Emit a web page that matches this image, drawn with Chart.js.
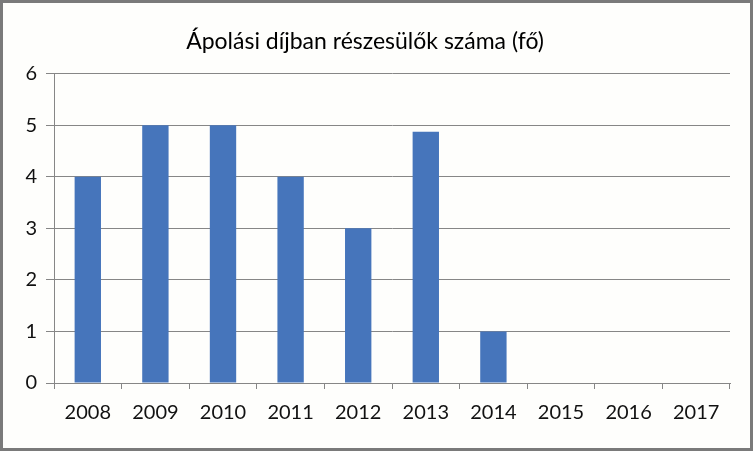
<!DOCTYPE html>
<html>
<head>
<meta charset="utf-8">
<script src="https://cdn.jsdelivr.net/npm/chart.js@4"></script>
<style>
html,body{margin:0;padding:0;background:#fff;}
#wrap{width:753px;height:451px;position:relative;}
</style>
</head>
<body>
<div id="wrap"><canvas id="c" width="753" height="451"></canvas></div>
<script>
const categories = ['2008','2009','2010','2011','2012','2013','2014','2015','2016','2017'];
const values = [4, 5, 5, 4, 3, 4.87, 1, 0, 0, 0];
const yTicks = [0,1,2,3,4,5,6];
const titleText = 'Ápolási díjban részesülők száma (fő)';

const framePlugin = {
  id: 'frame',
  beforeDraw(chart) {
    const ctx = chart.ctx;
    ctx.save();
    ctx.fillStyle = '#fefefc';
    ctx.fillRect(0, 0, chart.width, chart.height);
    ctx.strokeStyle = '#7a7a7a';
    ctx.lineWidth = 3;
    ctx.strokeRect(1.5, 1.5, chart.width - 3, chart.height - 3);
    ctx.restore();
  }
};

new Chart(document.getElementById('c'), {
  type: 'bar',
  data: {
    labels: categories,
    datasets: [{
      data: values,
      backgroundColor: '#4675bb',
      borderWidth: 0,
      barPercentage: 0.78,
      categoryPercentage: 0.5
    }]
  },
  plugins: [framePlugin],
  options: {
    responsive: false,
    animation: false,
    devicePixelRatio: 1,
    layout: { padding: { top: 18, right: 23, bottom: 0, left: 0 } },
    plugins: {
      legend: { display: false },
      tooltip: { enabled: false },
      title: {
        display: true,
        text: titleText,
        color: '#000',
        font: { family: 'Lato', size: 23, weight: 'normal', lineHeight: 1.2 },
        padding: { top: 10, bottom: 18 }
      }
    },
    scales: {
      x: {
        offset: true,
        afterFit(s) { s.height = 68; },
        grid: { offset: true, drawOnChartArea: false, drawTicks: true, tickLength: 6, color: '#868686' },
        border: { display: true, color: '#868686' },
        ticks: { color: '#111', padding: 12, font: { family: 'Lato', size: 20 } }
      },
      y: {
        min: 0, max: 6,
        afterFit(s) { s.width = 54; },
        afterBuildTicks(s) { s.ticks = yTicks.map(v => ({ value: v })); },
        grid: { color: '#868686', tickLength: 8, drawTicks: true },
        border: { display: true, color: '#868686' },
        ticks: { color: '#111', padding: 9, font: { family: 'Lato', size: 20 } }
      }
    }
  }
});
</script>
</body>
</html>
